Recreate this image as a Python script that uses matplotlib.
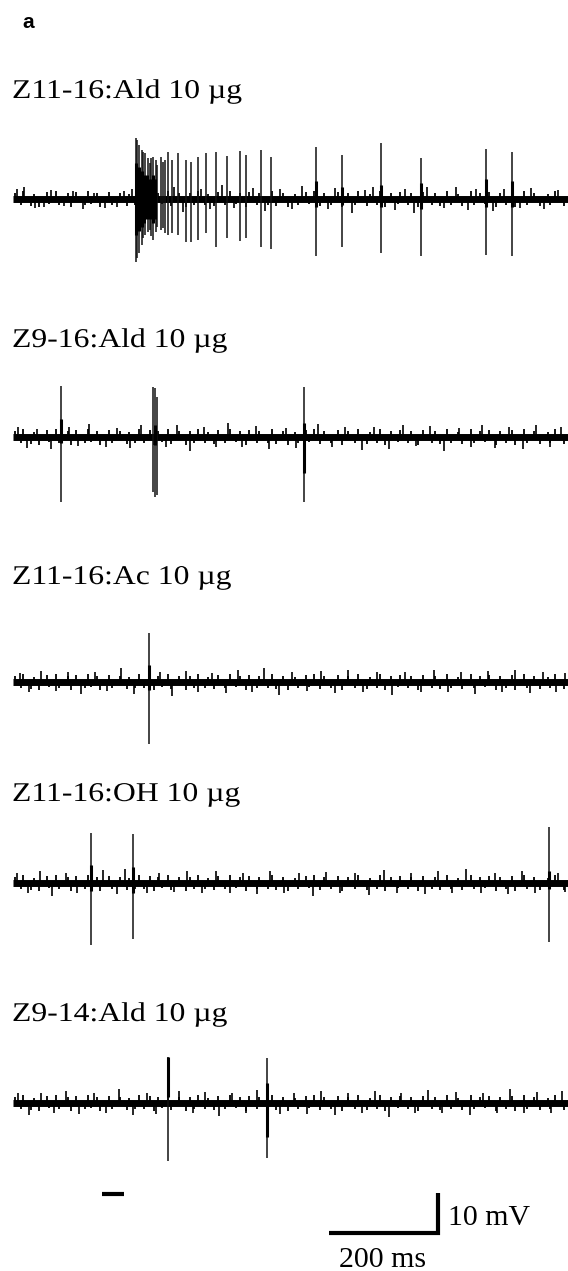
import numpy as np
import matplotlib
matplotlib.use('Agg')
from matplotlib import pyplot as plt
from matplotlib.patheffects import AbstractPathEffect
from matplotlib.transforms import Affine2D

# figure geometry (pixels) and recording scale
W, H = 568, 1271
PX_MS = 0.545      # px per ms (200 ms bar = 109 px)
PX_MV = 4.0        # px per mV (10 mV bar = 40 px)
T_END = 1018       # ms shown in each sweep

labels = ['Z11-16:Ald 10 \u00b5g', 'Z9-16:Ald 10 \u00b5g', 'Z11-16:Ac 10 \u00b5g',
          'Z11-16:OH 10 \u00b5g', 'Z9-14:Ald 10 \u00b5g']
label_base_px = [98, 347, 584, 801, 1021]
trace_base_px = [199, 437, 682, 883, 1103]

# spikes: time (ms), positive peak (mV), negative peak (mV)
spike_t1 = [225.1, 228.4, 232.1, 235.8, 239.4, 243.1, 246.8, 250.5, 254.1, 257.4, 261.5,
            265.1, 271.0, 275.2, 278.9, 285.0, 292.3, 303.3, 316.9, 326.1, 338.9, 354.1,
            371.9, 392.1, 416.5, 427.5, 455.0, 472.8, 556.5, 603.1, 675.6, 748.1, 867.0, 914.9]
spike_up1 = [15.25, 14.75, 13.5, 12.25, 11.75, 11.5, 10.25, 9.0, 10.25, 10.5, 9.75,
             8.5, 10.5, 9.25, 9.75, 11.75, 9.75, 11.5, 9.75, 9.25, 10.5, 11.5,
             11.75, 10.75, 12.0, 11.0, 12.25, 10.5, 13.0, 11.0, 14.0, 10.25, 12.5, 11.75]
spike_dn1 = [-15.75, -14.75, -13.5, -11.5, -9.75, -9.0, -8.25, -7.75, -9.25, -10.25, -8.25,
             -7.0, -7.75, -7.25, -8.5, -9.0, -8.5, -9.0, -10.75, -10.75, -10.25, -8.5,
             -12.0, -9.75, -10.5, -9.75, -12.0, -12.5, -14.25, -12.0, -13.5, -14.25, -14.0, -14.25]

spike_t2 = [87.2, 257.4, 260.4, 263.6, 534.0]
spike_up2 = [12.75, 12.6, 12.2, 10.1, 12.5]
spike_dn2 = [-16.25, -13.75, -15.0, -14.5, -16.25]

spike_t3 = [250.1]
spike_up3 = [12.3]
spike_dn3 = [-15.5]

spike_t4 = [143.7, 220.2, 983.5]
spike_up4 = [12.6, 12.25, 14.0]
spike_dn4 = [-15.5, -14.0, -14.7]

spike_t5 = [285.3, 466.8]
spike_up5 = [11.6, 11.3]
spike_dn5 = [-14.5, -13.75]

# thicker spike shoulders: time, low, high (mV)
thick_t1 = [226, 231, 236, 241, 246, 251, 256, 261, 556.5, 603.1, 675.6, 748.1, 867.0, 914.9]
thick_lo1 = [-9, -8, -7, -6, -5, -5, -6, -5, -2, -1.5, -2, -2.5, -2, -2]
thick_hi1 = [9, 8, 7, 6, 6, 5, 6, 5, 4.5, 3, 3.5, 4, 5, 4.5]
thick_t2 = [87.2, 261.0, 534.0]
thick_lo2 = [-1.5, -2.0, -9.0]
thick_hi2 = [4.5, 3.0, 3.5]
thick_t3 = [250.1]
thick_lo3 = [-2.0]
thick_hi3 = [4.25]
thick_t4 = [143.7, 220.2, 983.5]
thick_lo4 = [-2.0, -2.5, -1.5]
thick_hi4 = [4.5, 4.0, 3.0]
thick_t5 = [285.3, 466.8]
thick_lo5 = [1.6, -8.4]
thick_hi5 = [11.6, 5.0]

# larger background noise excursions: time (ms), amplitude (mV)
noise_t1 = [8, 21, 41, 57, 70, 93, 110, 128, 149, 169, 190, 204, 218, 296, 312, 345, 362, 384,
            405, 440, 463, 490, 512, 530, 578, 590, 622, 645, 660, 700, 720, 735, 760, 790,
            812, 835, 850, 880, 900, 930, 950, 975, 1000]
noise_a1 = [2.5, 3.0, -2.3, -2.0, 2.2, -1.7, 2.0, -2.4, 1.6, -2.3, -2.1, 1.9, 2.4, 3.0, -3.2, 2.6,
            -2.5, 3.4, -2.2, 2.8, -3.0, 2.5, -2.4, 3.2, -2.6, 2.7, -3.4, 2.2, 3.0, -2.8, 2.5,
            -3.5, 2.9, -2.3, 3.1, -2.7, 2.4, -3.0, 2.6, -2.2, 2.8, -2.5, 2.3]
noise_t2 = [10, 25, 44, 70, 102, 120, 140, 170, 190, 215, 235, 280, 300, 325, 350, 372, 395,
            420, 445, 470, 500, 520, 560, 585, 610, 640, 662, 690, 715, 740, 765, 790, 818,
            840, 860, 885, 910, 935, 960, 985, 1005]
noise_a2 = [2.4, -2.8, 2.0, -3.0, 2.6, -2.2, 3.2, -2.5, 2.2, -2.8, 2.9, -2.4, 3.0, -3.4, 2.5,
            -2.6, 3.6, -2.4, 2.8, -3.1, 2.3, -2.7, 3.3, -2.5, 2.6, -3.2, 2.4, -2.9, 3.1, -2.3,
            2.7, -3.5, 2.2, -2.6, 3.0, -2.8, 2.5, -3.0, 2.9, -2.4, 2.6]
noise_t3 = [12, 30, 52, 78, 100, 125, 150, 172, 198, 222, 270, 292, 318, 340, 365, 390, 412,
            438, 460, 488, 512, 540, 565, 590, 615, 642, 668, 695, 720, 748, 772, 798, 822,
            848, 872, 898, 922, 948, 972, 996, 1012]
noise_a3 = [2.2, -2.5, 2.8, -2.3, 2.4, -2.9, 2.6, -2.2, 3.4, -3.0, 2.5, -3.6, 2.7, -2.4, 2.3,
            -2.8, 2.9, -2.5, 3.4, -3.2, 2.6, -2.3, 2.8, -2.7, 3.0, -2.5, 2.4, -3.3, 2.6, -2.4,
            3.0, -2.6, 2.5, -2.9, 2.8, -2.4, 3.1, -2.7, 2.4, -2.6, 2.3]
noise_t4 = [8, 28, 50, 72, 98, 118, 165, 190, 205, 245, 268, 295, 320, 346, 372, 398, 422,
            448, 472, 498, 524, 550, 575, 600, 628, 654, 680, 705, 730, 756, 780, 806, 832,
            858, 884, 908, 934, 958, 1000, 1012]
noise_a4 = [2.6, -2.4, 3.0, -3.2, 2.4, -2.6, 3.2, -2.8, 3.4, -2.5, 2.6, -2.3, 2.9, -2.6, 3.0,
            -2.4, 2.5, -2.8, 3.1, -2.5, 2.4, -3.3, 2.8, -2.6, 2.5, -2.9, 3.2, -2.4, 2.6, -2.7,
            2.9, -2.5, 3.4, -2.6, 2.4, -2.8, 3.0, -2.5, 2.6, -2.3]
noise_t5 = [10, 30, 52, 75, 98, 122, 148, 170, 195, 220, 245, 262, 305, 330, 352, 378, 402,
            428, 448, 490, 515, 540, 565, 590, 615, 640, 665, 690, 712, 738, 762, 788, 812,
            838, 862, 888, 912, 938, 962, 988, 1008]
noise_a5 = [2.6, -2.9, 2.4, -2.5, 3.1, -2.8, 2.6, -2.4, 3.4, -3.0, 2.5, -2.7, 3.0, -2.4, 2.8,
            -3.2, 2.5, -2.6, 3.3, -2.7, 2.4, -2.8, 2.9, -3.0, 2.6, -2.4, 3.0, -3.4, 2.5, -2.6,
            3.2, -2.5, 2.7, -2.9, 2.4, -2.6, 3.4, -2.5, 2.8, -2.4, 3.0]

# fine hairs of the noise floor, same electrode so shared by all sweeps
hair_t = [3, 14, 19, 33, 38, 47, 62, 66, 79, 85,
          101, 106, 115, 133, 137, 144, 155, 160, 176, 181,
          196, 209, 213, 224, 231, 240, 252, 258, 266, 273,
          285, 290, 304, 318, 324, 333, 339, 352, 357, 368,
          377, 389, 399, 410, 416, 428, 433, 447, 452, 468,
          476, 483, 496, 505, 517, 523, 537, 544, 552, 563,
          571, 583, 597, 604, 614, 627, 633, 650, 655, 667,
          674, 683, 694, 706, 711, 725, 731, 744, 752, 768,
          775, 783, 797, 803, 817, 824, 840, 845, 857, 866,
          874, 887, 893, 905, 916, 922, 937, 944, 956, 967,
          981, 986, 994, 1011]
hair_a = [1.6, -1.4, 1.9, -1.7, 1.3, -2.0, 1.8, -1.3, 2.1, -1.6,
          1.4, -1.9, 1.7, -1.5, 2.0, -1.3, 1.5, -2.1, 1.8, -1.4,
          1.6, -1.8, 1.3, -1.6, 2.0, -1.5, 1.7, -1.9, 1.4, -1.3,
          1.9, -1.7, 1.5, -2.0, 1.6, -1.4, 2.1, -1.6, 1.3, -1.8,
          1.7, -1.5, 1.9, -1.3, 1.4, -2.0, 1.8, -1.6, 1.5, -1.4,
          2.0, -1.7, 1.6, -1.9, 1.3, -1.5, 1.8, -1.3, 2.1, -1.8,
          1.4, -1.6, 1.7, -2.0, 1.5, -1.4, 1.9, -1.7, 1.3, -1.5,
          2.0, -1.9, 1.6, -1.3, 1.8, -1.6, 1.4, -2.1, 1.7, -1.5,
          1.5, -1.8, 2.0, -1.4, 1.3, -1.7, 1.9, -1.6, 1.6, -1.3,
          1.8, -2.0, 1.4, -1.5, 1.7, -1.9, 2.1, -1.4, 1.5, -1.7,
          1.3, -1.6, 1.9, -1.8]

traces = [
    (spike_t1, spike_up1, spike_dn1, thick_t1, thick_lo1, thick_hi1, noise_t1, noise_a1),
    (spike_t2, spike_up2, spike_dn2, thick_t2, thick_lo2, thick_hi2, noise_t2, noise_a2),
    (spike_t3, spike_up3, spike_dn3, thick_t3, thick_lo3, thick_hi3, noise_t3, noise_a3),
    (spike_t4, spike_up4, spike_dn4, thick_t4, thick_lo4, thick_hi4, noise_t4, noise_a4),
    (spike_t5, spike_up5, spike_dn5, thick_t5, thick_lo5, thick_hi5, noise_t5, noise_a5),
]

# scale bars and stimulus marker (bottom)
stim_t = [164, 204]
bar_t = [580, 780]
bar_mv = 10

SERIF = ['Liberation Serif', 'DejaVu Serif']


class StretchX(AbstractPathEffect):
    """widen glyphs horizontally about a fixed display x (the scanned labels are wide)"""

    def __init__(self, sx, x0):
        super().__init__()
        self.sx, self.x0 = sx, x0

    def draw_path(self, renderer, gc, tpath, affine, rgbFace=None):
        st = Affine2D().translate(-self.x0, 0).scale(self.sx, 1).translate(self.x0, 0)
        renderer.draw_path(gc, tpath, affine + st, rgbFace)


fig = plt.figure(figsize=(W / 100, H / 100), dpi=100)
fig.text(22 / W, 1 - 28 / H, 'a', family=['Liberation Sans', 'DejaVu Sans'],
         fontweight='bold', fontsize=15, va='baseline')


def trace_axes(base_px, half_mv):
    half_px = half_mv * PX_MV
    ax = fig.add_axes([13 / W, 1 - (base_px + half_px) / H, T_END * PX_MS / W, 2 * half_px / H])
    ax.set_xlim(0, T_END)
    ax.set_ylim(-half_mv, half_mv)
    ax.axis('off')
    return ax


for lab, lb, tb, tr in zip(labels, label_base_px, trace_base_px, traces):
    st, su, sd, kt, klo, khi, nt, na = tr
    fig.text(12 / W, 1 - lb / H, lab, family=SERIF, fontsize=19.5, va='baseline',
             path_effects=[StretchX(1.17, 12)])
    ax = trace_axes(tb, 18)
    ax.plot([0, T_END], [0, 0], color='black', lw=5.0, solid_capstyle='butt')
    ax.vlines(hair_t, 0, hair_a, color='black', lw=1.3)
    ax.vlines(nt, 0, na, color='black', lw=1.2)
    ax.vlines(st, sd, su, color='#111111', lw=1.1)
    ax.vlines(kt, klo, khi, color='black', lw=2.2)

# bottom: stimulus dash and scale bars
sb_top_px, sb_bot_px, zero_px = 1170, 1271, 1233
ax = fig.add_axes([13 / W, 0, T_END * PX_MS / W, (sb_bot_px - sb_top_px) / H])
ax.set_xlim(0, T_END)
ax.set_ylim(-(sb_bot_px - zero_px) / PX_MV, (zero_px - sb_top_px) / PX_MV)
ax.axis('off')
ax.plot(stim_t, [bar_mv - 0.25] * 2, color='black', lw=3.0, solid_capstyle='butt')
ax.plot([bar_t[0], bar_t[1], bar_t[1]], [0, 0, bar_mv], color='black', lw=3.0,
        solid_joinstyle='miter', solid_capstyle='butt')
ax.text(bar_t[1] + 18, 2, '10 mV', family=SERIF, fontsize=21.5, va='baseline')
ax.text(bar_t[0] + 18, -8.5, '200 ms', family=SERIF, fontsize=21.5, va='baseline')

fig.savefig('out.png', dpi=100)
